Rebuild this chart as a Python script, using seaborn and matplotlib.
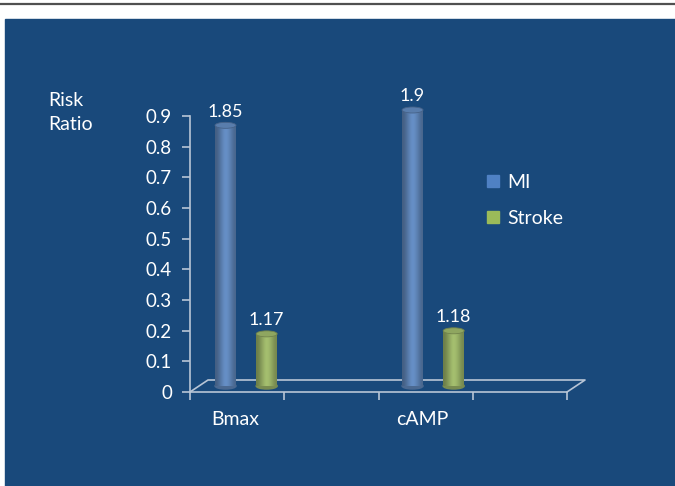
import numpy as np
import pandas as pd
import matplotlib
matplotlib.use("Agg")
import matplotlib.pyplot as plt
import matplotlib.colors as mcolors
from matplotlib.patches import Rectangle, Ellipse
from matplotlib.lines import Line2D
import seaborn as sns

# Data
categories = ["Bmax", "cAMP"]
outcomes = ["MI", "Stroke"]
mi_ratio = [1.85, 1.9]
stroke_ratio = [1.17, 1.18]
y_ticks = [0, 0.1, 0.2, 0.3, 0.4, 0.5, 0.6, 0.7, 0.8, 0.9]

colors = {"MI": "#4f81c4", "Stroke": "#9bbb59"}
bg = "#19497b"
axis_col = "#b8c5d6"

df = pd.DataFrame({
    "marker": categories * 2,
    "outcome": ["MI"] * 2 + ["Stroke"] * 2,
    "ratio": mi_ratio + stroke_ratio,
})
# bars start at a ratio of 1
df["height"] = df["ratio"] - 1

sns.set_style("ticks")
plt.rcParams["font.family"] = ["Lato", "DejaVu Sans"]

W, H = 675, 486
fig = plt.figure(figsize=(W / 100, H / 100), dpi=100)
fig.patch.set_facecolor("white")
fig.add_artist(Rectangle((5 / W, 0), 1, (H - 19) / H, transform=fig.transFigure,
                         color=bg, zorder=-10))
fig.add_artist(Line2D([0, 1], [1 - 4.5 / H] * 2, color="#505050", lw=1.6))

ax = fig.add_axes([190 / W, 94 / H, 377 / W, 276 / H])
ax.set_facecolor("none")

sns.barplot(data=df, x="marker", y="height", hue="outcome", hue_order=outcomes,
            palette=colors, width=0.44, ax=ax, legend=False, errorbar=None)

xmin, xmax = -0.30, 1.716
ymax = 0.9
px_x = (xmax - xmin) / 377
px_y = ymax / 276
dx, dy = 18 * px_x, 12 * px_y

# turn bars into shaded cylinders
bars = list(ax.patches)
shade = np.array([0.72, 0.85, 1.0, 1.12, 1.05, 0.92, 0.78])
for p in bars:
    xc = p.get_x() + p.get_width() / 2
    h = p.get_height()
    bw = 21 * px_x
    base = dy / 2
    fc = np.array(mcolors.to_rgb(p.get_facecolor()))
    p.set_visible(False)
    grad = np.clip(np.outer(np.ones(2), shade)[..., None] * fc, 0, 1)
    body = Rectangle((xc - bw / 2, base), bw, h, transform=ax.transData)
    im = ax.imshow(grad, extent=(xc - bw / 2, xc + bw / 2, base, base + h),
                   aspect="auto", interpolation="bicubic", zorder=3)
    im.set_clip_path(body)
    eh = 6 * px_y
    ax.add_patch(Ellipse((xc, base), bw, eh, color=np.clip(fc * 0.8, 0, 1),
                         zorder=2.9, clip_on=False))
    ax.add_patch(Ellipse((xc, base + h), bw, eh, fc=np.clip(fc * 0.95, 0, 1), zorder=3.1,
                         ec=np.clip(fc * 0.75, 0, 1), lw=0.6, clip_on=False))
    ratio = h + 1
    ax.annotate(f"{ratio:g}", (xc, base + h), xytext=(0, 4), textcoords="offset points",
                ha="center", va="bottom", color="white", fontsize=13,
                annotation_clip=False)

# floor of the 3D box
ax.plot([xmin, xmin + dx, xmax + dx, xmax], [0, dy, dy, 0], color=axis_col,
        lw=1.2, clip_on=False, zorder=1)

ax.set_xlim(xmin, xmax)
ax.set_ylim(0, ymax)
ax.set_yticks(y_ticks, [f"{t:g}" for t in y_ticks])
ax.set_xticks(np.arange(len(categories)) - 0.06, categories)
ax.set_xticks(np.linspace(xmin, xmax, 5), minor=True)
ax.tick_params(axis="x", which="major", length=0, pad=14, labelsize=14, labelcolor="white")
ax.tick_params(axis="x", which="minor", length=6, width=1.2, color=axis_col)
ax.tick_params(axis="y", length=6, width=1.2, color=axis_col, pad=7,
               labelsize=13.5, labelcolor="white")
ax.set_xlabel("")
ax.set_ylabel("")
sns.despine(ax=ax)
for s in ("left", "bottom"):
    ax.spines[s].set_color(axis_col)
    ax.spines[s].set_linewidth(1.2)

fig.text(48 / W, 1 - 92 / H, "Risk\nRatio", color="white", fontsize=14,
         ha="left", va="top", linespacing=1.5)

handles = [Line2D([], [], marker="s", ls="", markersize=8, color=colors[o]) for o in outcomes]
fig.legend(handles, outcomes, loc="upper left", bbox_to_anchor=(468 / W, 1 - 156 / H),
           frameon=False, labelcolor="white", fontsize=14, labelspacing=1.0,
           handlelength=0.8, handletextpad=0.3)

fig.savefig("out.png", dpi=100, facecolor=fig.get_facecolor())
